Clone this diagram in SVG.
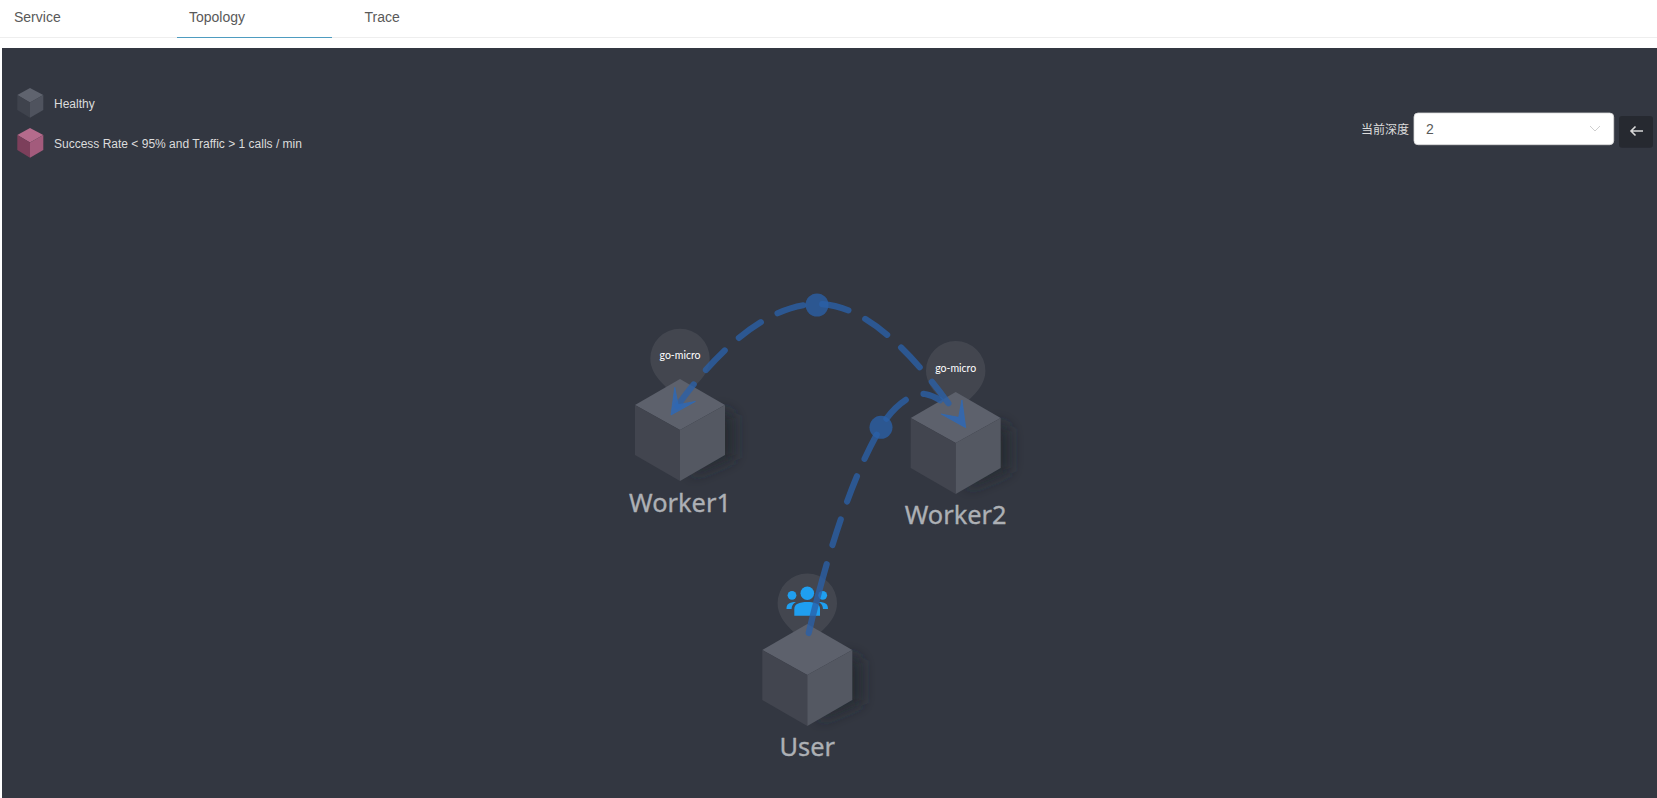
<svg xmlns="http://www.w3.org/2000/svg" width="1657" height="798" viewBox="0 0 1657 798">
<style>
.tab{font:14px "Liberation Sans",Arial,sans-serif;fill:#595959}
.leg{font:12px "Liberation Sans",Arial,sans-serif;fill:#dcdcdc}
.name{font-family:"Noto Sans","Open Sans",sans-serif;font-size:25.4px;fill:#adb0b5;stroke:#adb0b5;stroke-width:.35;text-anchor:middle}
.tag{font-family:"Lato",sans-serif;font-size:11px;fill:#fff;text-anchor:middle}
.top{fill:#5d616c}.left{fill:#42454f}.right{fill:#545862}
.pin{fill:#fff;fill-opacity:.08}
.edge{fill:none;stroke:#2a60a8;stroke-opacity:.78;stroke-width:6.2;stroke-linecap:round}
.dot{fill:#2a60a8;fill-opacity:.78}
.ppl{fill:#1f9ff0}
</style>
<defs>
<filter id="blur" filterUnits="userSpaceOnUse" x="-80" y="-90" width="220" height="210"><feGaussianBlur stdDeviation="7"/></filter>
<marker id="arrow" markerUnits="userSpaceOnUse" markerWidth="30" markerHeight="30" refX="28" refY="15" orient="auto-start-reverse" overflow="visible"><path d="M3,2.5 L28,15 L3,27.5 L15.5,15 Z" fill="#2f69b5" fill-opacity=".85" stroke="#2f69b5" stroke-opacity=".85" stroke-width=".8"/></marker>
<g id="cube"><path d="M40,-22 L54,-14 V28 L10,46 Z" fill="#23262d" fill-opacity=".75" filter="url(#blur)"/><path class="top" d="M0,-51 L45,-25 L0,0 L-45,-25 Z"/><path class="left" d="M-45,-25 L0,0 V51 L-45,25 Z"/><path class="right" d="M45,-25 L0,0 V51 L45,25 Z"/></g>
<path id="pinShape" class="pin" d="M0,43 C-8,31 -29.7,20 -29.7,0 A29.7,29.7 0 0 1 29.7,0 C29.7,20 8,31 0,43 Z"/>
</defs>
<rect width="1657" height="798" fill="#fff"/>
<rect x="0" y="37" width="1657" height="1" fill="#eeeeee"/>
<rect x="177" y="37" width="155" height="1" fill="#4e9cc0"/>
<text class="tab" x="14" y="22">Service</text>
<text class="tab" x="189" y="22">Topology</text>
<text class="tab" x="364.5" y="22">Trace</text>
<rect x="2" y="48" width="1655" height="750" fill="#333741"/>
<g id="legend">
<g id="legend-healthy"><path d="M30,88 L43.3,95 L30,102.5 L17.3,95 Z" fill="#5f636e"/><path d="M17.3,95 L30,102.5 V117.7 L17.3,110 Z" fill="#3f434d"/><path d="M43.3,95 L30,102.5 V117.7 L43.3,110 Z" fill="#4f535e"/><text class="leg" x="54" y="108">Healthy</text></g>
<g id="legend-alert"><path d="M30,128 L43.3,135 L30,142.5 L17.3,135 Z" fill="#b56b8c"/><path d="M17.3,135 L30,142.5 V157.7 L17.3,150 Z" fill="#7c3f5b"/><path d="M43.3,135 L30,142.5 V157.7 L43.3,150 Z" fill="#a35b7c"/><text class="leg" x="54" y="148">Success Rate &lt; 95% and Traffic &gt; 1 calls / min</text></g>
</g>
<g id="depth-control">
<text class="leg" x="1361" y="134" style="font-family:'Noto Sans CJK SC','Liberation Sans',sans-serif">当前深度</text>
<rect x="1414" y="113" width="199.7" height="31.7" rx="4" fill="#fff" stroke="#d9d9d9" stroke-width=".8"/>
<text x="1426" y="134" style="font:14px 'Liberation Sans',Arial,sans-serif;fill:#595959">2</text>
<path d="M1590,126 L1595,131 L1600,126" fill="none" stroke="#cfcfcf" stroke-width="1"/>
<rect x="1619" y="116" width="34" height="31.7" rx="3" fill="#262930"/>
<path d="M1643,131 H1631 M1635.5,126.5 L1631,131 L1635.5,135.5" fill="none" stroke="#d8d8d8" stroke-width="1.6"/>
</g>
<g id="node-worker1"><use href="#pinShape" x="680" y="358.5"/><use href="#cube" x="680" y="430"/><text class="tag" x="680" y="359" textLength="41" lengthAdjust="spacingAndGlyphs">go-micro</text><text class="name" x="680" y="511.5">Worker1</text></g>
<g id="node-worker2"><use href="#pinShape" x="955.7" y="370.7"/><use href="#cube" x="955.7" y="443"/><text class="tag" x="955.7" y="371.5" textLength="41" lengthAdjust="spacingAndGlyphs">go-micro</text><text class="name" x="955.7" y="524">Worker2</text></g>
<g id="node-user"><use href="#pinShape" x="807.3" y="603.3"/><use href="#cube" x="807.3" y="675"/>
<g class="ppl"><circle cx="807.3" cy="593.3" r="6.8"/><circle cx="792" cy="595.3" r="4.4"/><circle cx="822.7" cy="595.3" r="4.4"/><path d="M794.3,615.7 V609 C794.3,604 799,602 807.3,602 C815.6,602 820,604 820,609 V615.7 Z"/><path d="M786.5,609 C786.5,604 789,602 796,602 C792.5,604 791.8,606 791.6,609 Z"/><path d="M828,609 C828,604 825.5,602 818.5,602 C822,604 822.8,606 823,609 Z"/></g>
<text class="name" x="807.3" y="756">User</text></g>
<g id="connectors">
<path id="edge-worker" class="edge" stroke-dasharray="27 19 27 19 27 19 27 19 27 19 27 19 27 19 27 100" stroke-dashoffset="-11" marker-start="url(#arrow)" d="M671,415 C712,355 765,304 818,304 C872,304 925,368 965.7,427.7"/>
<path id="edge-user" class="edge" stroke-dasharray="71 20 27 19 27 19 27 19 27 19 18 100" marker-end="url(#arrow)" d="M808.7,633 C826,560 850,480 881,427 C895,403 915,392 925,394 C942,397 955,412 965.7,427.7"/>
<circle class="dot" cx="817" cy="305" r="11.5"/>
<circle class="dot" cx="881" cy="427.3" r="11.5"/>
</g>
</svg>
